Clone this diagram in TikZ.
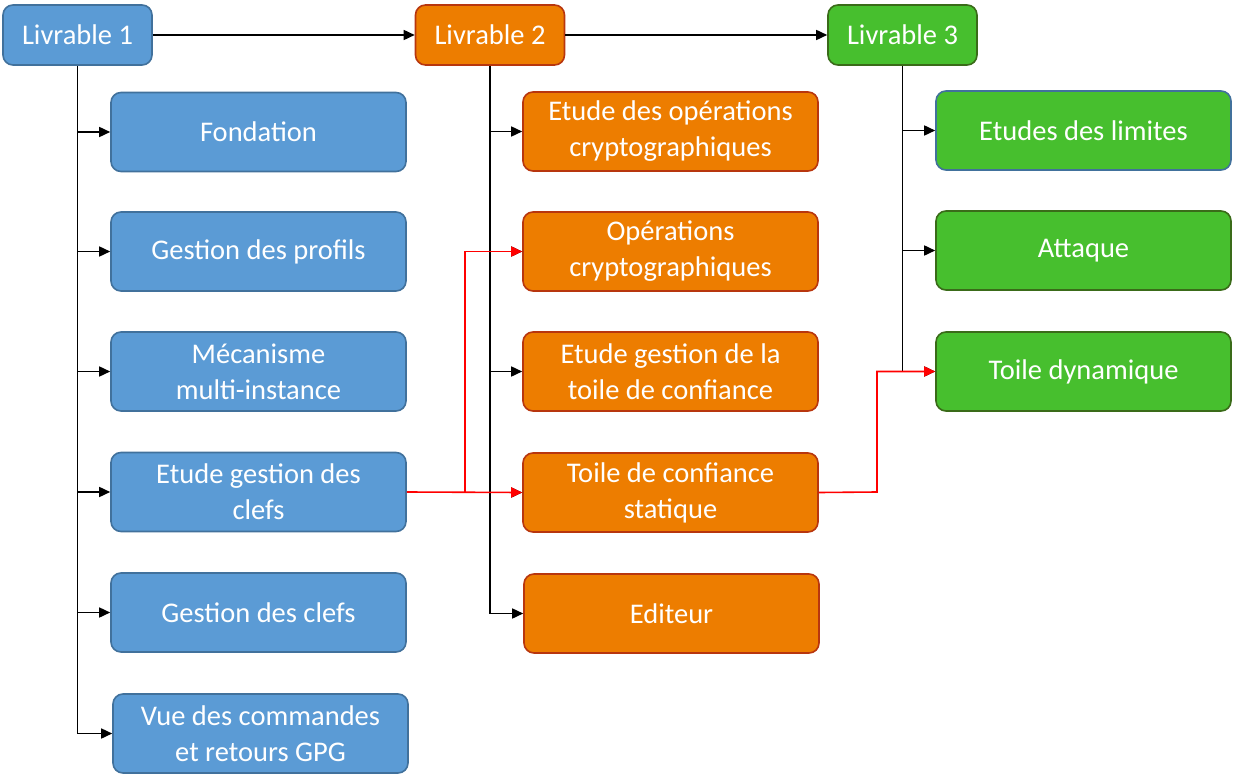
\documentclass[tikz,border=0pt]{standalone}
\usepackage{fontspec}
\setmainfont{Carlito}
\usetikzlibrary{arrows.meta}
\definecolor{bfill}{HTML}{5B9BD5}
\definecolor{bdraw}{HTML}{41719C}
\definecolor{ofill}{HTML}{ED7D00}
\definecolor{odraw}{HTML}{B8360E}
\definecolor{gfill}{HTML}{47BF2E}
\definecolor{gdraw}{HTML}{3A6B19}
\tikzset{
  box/.style={rounded corners=10pt, line width=1.6pt, text=white, align=center,
    font=\fontsize{28.5}{36}\selectfont, inner sep=0pt},
  child/.style={box, minimum width=295pt, minimum height=79pt},
  head/.style={box, minimum width=149pt, minimum height=60pt},
  bluebox/.style={fill=bfill, draw=bdraw},
  orangebox/.style={fill=ofill, draw=odraw},
  greenbox/.style={fill=gfill, draw=gdraw},
  conn/.style={line width=1.6pt, -{Triangle[length=11pt,width=10pt]}},
  trunk/.style={line width=1.6pt},
  redconn/.style={conn, draw=red, color=red},
}
\begin{document}
\begin{tikzpicture}[x=1pt,y=-1pt]
\useasboundingbox (0,0) rectangle (1236,778);
% headers
\node[head,bluebox] (L1) at (77.5,35) {Livrable 1};
\node[head,orangebox] (L2) at (490,35) {Livrable 2};
\node[head,greenbox] (L3) at (902.5,35) {Livrable 3};
% blue column
\node[child,bluebox] (b1) at (258.5,132) {Fondation};
\node[child,bluebox] (b2) at (258.5,251.5) {Gestion des profils};
\node[child,bluebox] (b3) at (258.5,371.5) {Mécanisme\\multi-instance};
\node[child,bluebox] (b4) at (258.5,492) {Etude gestion des\\clefs};
\node[child,bluebox] (b5) at (258.5,612.5) {Gestion des clefs};
\node[child,bluebox] (b6) at (260.5,733.5) {Vue des commandes\\et retours GPG};
% orange column
\node[child,orangebox] (o1) at (670.5,131.5) {Etude des opérations\\cryptographiques};
\node[child,orangebox] (o2) at (670.5,251.5) {Opérations\\cryptographiques};
\node[child,orangebox] (o3) at (670.5,371.5) {Etude gestion de la\\toile de confiance};
\node[child,orangebox] (o4) at (670.5,492.5) {Toile de confiance\\statique};
\node[child,orangebox] (o5) at (671.5,613.5) {Editeur};
% green column
\node[child,greenbox,draw=bdraw] (g1) at (1083.5,130.5) {Etudes des limites};
\node[child,greenbox] (g2) at (1083.5,250.5) {Attaque};
\node[child,greenbox] (g3) at (1083.5,371.5) {Toile dynamique};
% header arrows
\draw[conn] (L1.east) -- (L2.west);
\draw[conn] (L2.east) -- (L3.west);
% trunks
\draw[trunk] (L1.south) -- (L1.south |- b6.west);
\draw[trunk] (L2.south) -- (L2.south |- o5.west);
\draw[trunk] (L3.south) -- (L3.south |- g3.west);
\foreach \n in {b1,b2,b3,b4,b5,b6} \draw[conn] (L1.south |- \n.west) -- (\n.west);
\foreach \n in {o1,o2,o3,o4,o5} \draw[conn] (L2.south |- \n.west) -- (\n.west);
\foreach \n in {g1,g2,g3} \draw[conn] (L3.south |- \n.west) -- (\n.west);
% red links
\coordinate (r1) at (465,492);
\draw[redconn] (b4.east) -- (o4.west);
\draw[redconn] (r1) |- (o2.west);
\coordinate (r2) at (877,492);
\draw[redconn] (o4.east) -- (r2) |- (g3.west);
\end{tikzpicture}
\end{document}
